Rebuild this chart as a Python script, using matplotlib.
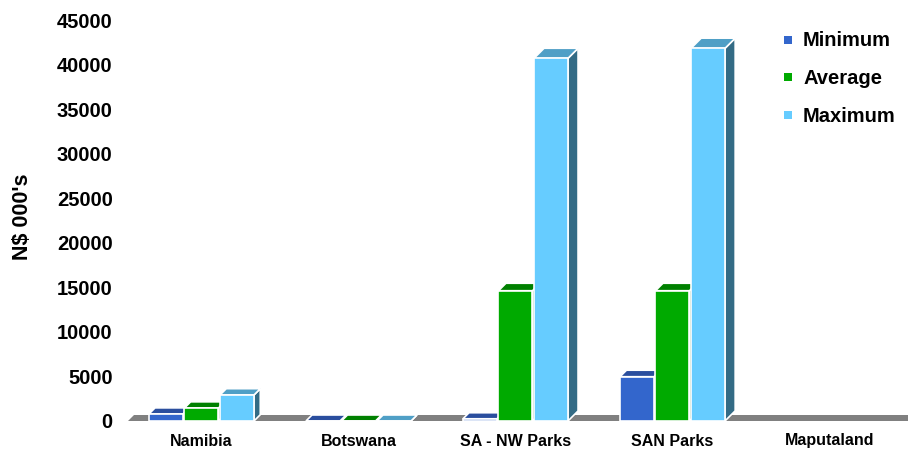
import numpy as np
import matplotlib
matplotlib.use("Agg")
import matplotlib.pyplot as plt
from matplotlib.patches import Polygon, Rectangle

plt.rcParams["font.family"] = ["Liberation Sans", "DejaVu Sans"]

# ---- data -------------------------------------------------------------
categories = ["Namibia", "Botswana", "SA - NW Parks", "SAN Parks", "Maputaland"]
series_names = ["Minimum", "Average", "Maximum"]
minimum = [790, 0, 250, 4970, np.nan]
average = [1460, 0, 14620, 14620, np.nan]
maximum = [2920, 0, 40700, 41820, np.nan]
y_ticks = [0, 5000, 10000, 15000, 20000, 25000, 30000, 35000, 40000, 45000]

# ---- style ------------------------------------------------------------
front_cols = ["#3366CC", "#00AA00", "#66CCFF"]
top_cols = ["#2A4E9E", "#008000", "#4F9FC6"]
side_cols = ["#1F3A78", "#006000", "#336B85"]
floor_col = "#808080"

W, H = 908, 451
fig = plt.figure(figsize=(W / 100, H / 100), dpi=100)
ax_left, ax_bottom, ax_w, ax_h = 128, 30, 780, 401
ax = fig.add_axes([ax_left / W, ax_bottom / H, ax_w / W, ax_h / H])

x_lo, x_hi = -0.468, 4.5
y_lo, y_hi = 0, 45000
ax.set_xlim(x_lo, x_hi)
ax.set_ylim(y_lo, y_hi)

px_x = (x_hi - x_lo) / ax_w   # data units per pixel, horizontal
px_y = (y_hi - y_lo) / ax_h   # data units per pixel, vertical

# floor slab
fd = 6
floor = Polygon([(x_lo, 0), (x_hi + 1, 0), (x_hi + 1 + fd * px_x, fd * px_y),
                 (x_lo + fd * px_x, fd * px_y)], closed=True,
                facecolor=floor_col, edgecolor="none", zorder=1)
ax.add_patch(floor)

bar_w = 34 * px_x
pitch = 35.5 * px_x
values = [minimum, average, maximum]

for i, cat in enumerate(categories):
    for j, vals in enumerate(values):
        v = vals[i]
        if np.isnan(v):
            continue
        d = 6 + 4.5 * v / y_hi        # depth in pixels (slight perspective)
        dx, dy = d * px_x, d * px_y
        x0 = i + (j - 1) * pitch - bar_w / 2
        z = 2 + j
        side = Polygon([(x0 + bar_w, 0), (x0 + bar_w + dx, dy),
                        (x0 + bar_w + dx, v + dy), (x0 + bar_w, v)],
                       closed=True, facecolor=side_cols[j], edgecolor="white",
                       linewidth=1.2, zorder=z)
        top = Polygon([(x0, v), (x0 + bar_w, v), (x0 + bar_w + dx, v + dy),
                       (x0 + dx, v + dy)], closed=True, facecolor=top_cols[j],
                      edgecolor="white", linewidth=1.2, zorder=z)
        front = Rectangle((x0, 0), bar_w, v, facecolor=front_cols[j],
                          edgecolor="white", linewidth=1.2, zorder=z)
        for p in (side, top, front):
            ax.add_patch(p)

for s in ax.spines.values():
    s.set_visible(False)

ax.set_yticks(y_ticks)
ax.set_yticklabels([str(t) for t in y_ticks], fontsize=14.5, fontweight="bold")
ax.set_xticks(range(len(categories)))
ax.set_xticklabels(categories, fontsize=11.5, fontweight="bold")
ax.tick_params(axis="y", length=0, pad=11)
ax.tick_params(axis="x", length=0, pad=9)

fig.text(22 / W, 1 - 217 / H, "N$ 000's", rotation=90, ha="center",
         va="center", fontsize=15.5, fontweight="bold")

# legend
leg_base = [46.5, 84, 121.5]
for j, name in enumerate(series_names):
    yb = leg_base[j]
    fig.patches.append(Rectangle((784 / W, 1 - (yb - 3) / H), 8 / W, 8 / H,
                                 transform=fig.transFigure,
                                 facecolor=front_cols[j], edgecolor="none"))
    fig.text(803 / W, 1 - yb / H, name, ha="left", va="baseline",
             fontsize=14.5, fontweight="bold")

fig.savefig("out.png", dpi=100)
